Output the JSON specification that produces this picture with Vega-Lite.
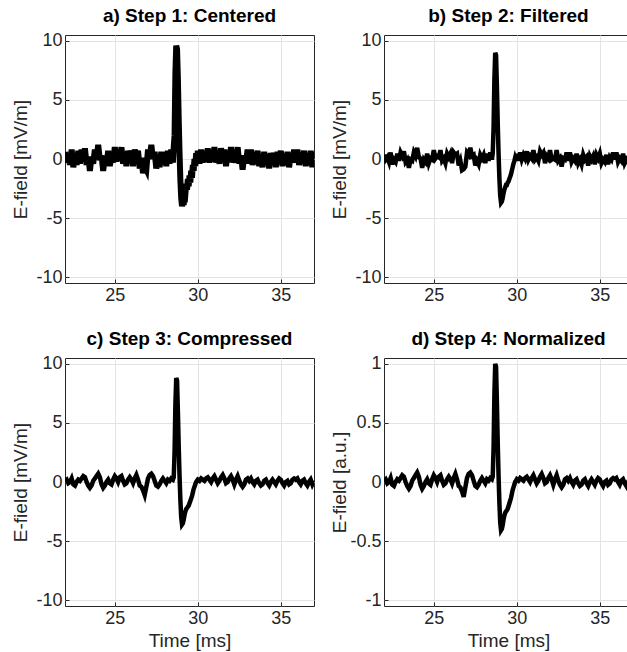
{
"$schema":"https://vega.github.io/schema/vega-lite/v6.json",
"padding":{"left":10,"top":6,"right":0,"bottom":0},
"background":"white",
"data":{"values":[
{"t":22.0,"a":0.6,"b":0.35,"c":0.1,"d":0.011},
{"t":22.1,"a":-0.3,"b":-0.05,"c":0.2,"d":0.023},
{"t":22.2,"a":0.4,"b":0.15,"c":-0.1,"d":-0.011},
{"t":22.3,"a":-0.5,"b":-0.25,"c":0.0,"d":0},
{"t":22.4,"a":0.8,"b":0.55,"c":0.3,"d":0.034},
{"t":22.5,"a":-0.7,"b":-0.45,"c":-0.2,"d":-0.023},
{"t":22.6,"a":0.2,"b":-0.05,"c":-0.3,"d":-0.034},
{"t":22.7,"a":-0.5,"b":-0.25,"c":0.0,"d":0},
{"t":22.8,"a":0.7,"b":0.45,"c":0.2,"d":0.023},
{"t":22.9,"a":-0.4,"b":-0.15,"c":0.1,"d":0.011},
{"t":23.0,"a":0.8,"b":0.55,"c":0.3,"d":0.034},
{"t":23.1,"a":0.0,"b":0.25,"c":0.5,"d":0.057},
{"t":23.2,"a":0.9,"b":0.65,"c":0.4,"d":0.045},
{"t":23.3,"a":-0.5,"b":-0.25,"c":0.0,"d":0},
{"t":23.4,"a":0.2,"b":-0.05,"c":-0.3,"d":-0.034},
{"t":23.5,"a":-1.0,"b":-0.75,"c":-0.5,"d":-0.057},
{"t":23.6,"a":0.2,"b":-0.05,"c":-0.3,"d":-0.034},
{"t":23.7,"a":-0.4,"b":-0.15,"c":0.1,"d":0.011},
{"t":23.8,"a":0.8,"b":0.55,"c":0.3,"d":0.034},
{"t":23.9,"a":0.0,"b":0.25,"c":0.5,"d":0.057},
{"t":24.0,"a":1.2,"b":0.95,"c":0.7,"d":0.080},
{"t":24.1,"a":-0.1,"b":0.15,"c":0.4,"d":0.045},
{"t":24.2,"a":0.3,"b":0.05,"c":-0.2,"d":-0.023},
{"t":24.3,"a":-1.0,"b":-0.75,"c":-0.5,"d":-0.057},
{"t":24.4,"a":0.2,"b":-0.05,"c":-0.3,"d":-0.034},
{"t":24.5,"a":-0.5,"b":-0.25,"c":0.0,"d":0},
{"t":24.6,"a":0.7,"b":0.45,"c":0.2,"d":0.023},
{"t":24.7,"a":-0.6,"b":-0.35,"c":-0.1,"d":-0.011},
{"t":24.8,"a":0.3,"b":0.05,"c":-0.2,"d":-0.023},
{"t":24.9,"a":-0.3,"b":-0.05,"c":0.2,"d":0.023},
{"t":25.0,"a":1.0,"b":0.75,"c":0.5,"d":0.057},
{"t":25.1,"a":-0.2,"b":0.05,"c":0.3,"d":0.034},
{"t":25.2,"a":0.5,"b":0.25,"c":0.0,"d":0},
{"t":25.3,"a":-0.1,"b":0.15,"c":0.4,"d":0.045},
{"t":25.4,"a":1.0,"b":0.75,"c":0.5,"d":0.057},
{"t":25.5,"a":-0.4,"b":-0.15,"c":0.1,"d":0.011},
{"t":25.6,"a":0.3,"b":0.05,"c":-0.2,"d":-0.023},
{"t":25.7,"a":-0.6,"b":-0.35,"c":-0.1,"d":-0.011},
{"t":25.8,"a":0.7,"b":0.45,"c":0.2,"d":0.023},
{"t":25.9,"a":-0.1,"b":0.15,"c":0.4,"d":0.045},
{"t":26.0,"a":0.7,"b":0.45,"c":0.2,"d":0.023},
{"t":26.1,"a":-0.6,"b":-0.35,"c":-0.1,"d":-0.011},
{"t":26.2,"a":0.8,"b":0.55,"c":0.3,"d":0.034},
{"t":26.3,"a":0.1,"b":0.35,"c":0.6,"d":0.068},
{"t":26.4,"a":0.7,"b":0.45,"c":0.2,"d":0.023},
{"t":26.5,"a":-0.8,"b":-0.55,"c":-0.3,"d":-0.034},
{"t":26.6,"a":0.1,"b":-0.15,"c":-0.4,"d":-0.045},
{"t":26.7,"a":-1.2,"b":-0.95,"c":-0.7,"d":-0.080},
{"t":26.8,"a":-0.6,"b":-0.85,"c":-1.1,"d":-0.125},
{"t":26.9,"a":-0.9,"b":-0.65,"c":-0.4,"d":-0.045},
{"t":27.0,"a":0.8,"b":0.55,"c":0.3,"d":0.034},
{"t":27.1,"a":0.1,"b":0.35,"c":0.6,"d":0.068},
{"t":27.2,"a":1.2,"b":0.95,"c":0.7,"d":0.080},
{"t":27.3,"a":0.0,"b":0.25,"c":0.5,"d":0.057},
{"t":27.4,"a":0.6,"b":0.35,"c":0.1,"d":0.011},
{"t":27.5,"a":-0.8,"b":-0.55,"c":-0.3,"d":-0.034},
{"t":27.6,"a":0.1,"b":-0.15,"c":-0.4,"d":-0.045},
{"t":27.7,"a":-0.7,"b":-0.45,"c":-0.2,"d":-0.023},
{"t":27.8,"a":0.6,"b":0.35,"c":0.1,"d":0.011},
{"t":27.9,"a":-0.2,"b":0.05,"c":0.3,"d":0.034},
{"t":28.0,"a":0.6,"b":0.35,"c":0.1,"d":0.011},
{"t":28.1,"a":-0.6,"b":-0.35,"c":-0.1,"d":-0.011},
{"t":28.2,"a":0.7,"b":0.45,"c":0.2,"d":0.023},
{"t":28.3,"a":-0.4,"b":-0.15,"c":0.1,"d":0.011},
{"t":28.4,"a":0.8,"b":0.55,"c":0.3,"d":0.034},
{"t":28.5,"a":-0.3,"b":-0.05,"c":0.2,"d":0.023},
{"t":28.55,"a":1.0,"b":0.5,"c":0.4,"d":0.045},
{"t":28.6,"a":2.0,"b":2.6,"c":2.5,"d":0.284},
{"t":28.65,"a":7.2,"b":6.7,"c":6.5,"d":0.739},
{"t":28.7,"a":9.6,"b":9.0,"c":8.8,"d":1.0},
{"t":28.75,"a":9.3,"b":8.8,"c":8.6,"d":0.977},
{"t":28.8,"a":6.8,"b":6.2,"c":6.0,"d":0.682},
{"t":28.85,"a":3.4,"b":3.1,"c":3.0,"d":0.341},
{"t":28.9,"a":0.5,"b":0.5,"c":0.5,"d":0.057},
{"t":28.95,"a":-1.8,"b":-1.6,"c":-1.5,"d":-0.170},
{"t":29.0,"a":-3.3,"b":-3.1,"c":-3.0,"d":-0.341},
{"t":29.05,"a":-4.0,"b":-3.7,"c":-3.6,"d":-0.409},
{"t":29.1,"a":-3.6,"b":-3.6,"c":-3.5,"d":-0.398},
{"t":29.15,"a":-3.9,"b":-3.3,"c":-3.2,"d":-0.364},
{"t":29.2,"a":-2.9,"b":-2.9,"c":-2.8,"d":-0.318},
{"t":29.25,"a":-3.0,"b":-2.6,"c":-2.5,"d":-0.284},
{"t":29.3,"a":-2.1,"b":-2.4,"c":-2.3,"d":-0.261},
{"t":29.35,"a":-2.6,"b":-2.2,"c":-2.2,"d":-0.25},
{"t":29.4,"a":-1.7,"b":-2.2,"c":-2.1,"d":-0.239},
{"t":29.45,"a":-2.3,"b":-2.0,"c":-2.0,"d":-0.227},
{"t":29.5,"a":-1.4,"b":-1.9,"c":-1.8,"d":-0.205},
{"t":29.55,"a":-2.0,"b":-1.7,"c":-1.6,"d":-0.182},
{"t":29.6,"a":-1.0,"b":-1.5,"c":-1.4,"d":-0.159},
{"t":29.65,"a":-1.6,"b":-1.3,"c":-1.2,"d":-0.136},
{"t":29.7,"a":-0.5,"b":-1.0,"c":-0.9,"d":-0.102},
{"t":29.75,"a":-1.0,"b":-0.7,"c":-0.6,"d":-0.068},
{"t":29.8,"a":0.0,"b":-0.4,"c":-0.4,"d":-0.045},
{"t":29.85,"a":-0.6,"b":-0.2,"c":-0.2,"d":-0.023},
{"t":29.9,"a":0.5,"b":0.1,"c":0.0,"d":0},
{"t":29.95,"a":-0.3,"b":-0.1,"c":0.1,"d":0.011},
{"t":30.0,"a":0.7,"b":0.45,"c":0.2,"d":0.023},
{"t":30.1,"a":-0.4,"b":-0.15,"c":0.1,"d":0.011},
{"t":30.2,"a":0.8,"b":0.55,"c":0.3,"d":0.034},
{"t":30.3,"a":-0.3,"b":-0.05,"c":0.2,"d":0.023},
{"t":30.4,"a":0.6,"b":0.35,"c":0.1,"d":0.011},
{"t":30.5,"a":-0.2,"b":0.05,"c":0.3,"d":0.034},
{"t":30.6,"a":0.9,"b":0.65,"c":0.4,"d":0.045},
{"t":30.7,"a":-0.3,"b":-0.05,"c":0.2,"d":0.023},
{"t":30.8,"a":0.5,"b":0.25,"c":0.0,"d":0},
{"t":30.9,"a":-0.2,"b":0.05,"c":0.3,"d":0.034},
{"t":31.0,"a":1.0,"b":0.75,"c":0.5,"d":0.057},
{"t":31.1,"a":-0.3,"b":-0.05,"c":0.2,"d":0.023},
{"t":31.2,"a":0.4,"b":0.15,"c":-0.1,"d":-0.011},
{"t":31.3,"a":-0.4,"b":-0.15,"c":0.1,"d":0.011},
{"t":31.4,"a":0.9,"b":0.65,"c":0.4,"d":0.045},
{"t":31.5,"a":0.1,"b":0.35,"c":0.6,"d":0.068},
{"t":31.6,"a":0.8,"b":0.55,"c":0.3,"d":0.034},
{"t":31.7,"a":-0.6,"b":-0.35,"c":-0.1,"d":-0.011},
{"t":31.8,"a":0.5,"b":0.25,"c":0.0,"d":0},
{"t":31.9,"a":-0.2,"b":0.05,"c":0.3,"d":0.034},
{"t":32.0,"a":1.0,"b":0.75,"c":0.5,"d":0.057},
{"t":32.1,"a":-0.3,"b":-0.05,"c":0.2,"d":0.023},
{"t":32.2,"a":0.3,"b":0.05,"c":-0.2,"d":-0.023},
{"t":32.3,"a":-0.3,"b":-0.05,"c":0.2,"d":0.023},
{"t":32.4,"a":1.0,"b":0.75,"c":0.5,"d":0.057},
{"t":32.5,"a":-0.4,"b":-0.15,"c":0.1,"d":0.011},
{"t":32.6,"a":0.3,"b":0.05,"c":-0.2,"d":-0.023},
{"t":32.7,"a":-0.9,"b":-0.65,"c":-0.4,"d":-0.045},
{"t":32.8,"a":0.3,"b":0.05,"c":-0.2,"d":-0.023},
{"t":32.9,"a":-0.3,"b":-0.05,"c":0.2,"d":0.023},
{"t":33.0,"a":0.8,"b":0.55,"c":0.3,"d":0.034},
{"t":33.1,"a":-0.4,"b":-0.15,"c":0.1,"d":0.011},
{"t":33.2,"a":0.8,"b":0.55,"c":0.3,"d":0.034},
{"t":33.3,"a":-0.5,"b":-0.25,"c":0.0,"d":0},
{"t":33.4,"a":0.3,"b":0.05,"c":-0.2,"d":-0.023},
{"t":33.5,"a":-0.4,"b":-0.15,"c":0.1,"d":0.011},
{"t":33.6,"a":0.7,"b":0.45,"c":0.2,"d":0.023},
{"t":33.7,"a":-0.6,"b":-0.35,"c":-0.1,"d":-0.011},
{"t":33.8,"a":0.2,"b":-0.05,"c":-0.3,"d":-0.034},
{"t":33.9,"a":-0.7,"b":-0.45,"c":-0.2,"d":-0.023},
{"t":34.0,"a":0.6,"b":0.35,"c":0.1,"d":0.011},
{"t":34.1,"a":-0.3,"b":-0.05,"c":0.2,"d":0.023},
{"t":34.2,"a":0.4,"b":0.15,"c":-0.1,"d":-0.011},
{"t":34.3,"a":-0.8,"b":-0.55,"c":-0.3,"d":-0.034},
{"t":34.4,"a":0.5,"b":0.25,"c":0.0,"d":0},
{"t":34.5,"a":-0.3,"b":-0.05,"c":0.2,"d":0.023},
{"t":34.6,"a":0.5,"b":0.25,"c":0.0,"d":0},
{"t":34.7,"a":-0.7,"b":-0.45,"c":-0.2,"d":-0.023},
{"t":34.8,"a":0.6,"b":0.35,"c":0.1,"d":0.011},
{"t":34.9,"a":-0.2,"b":0.05,"c":0.3,"d":0.034},
{"t":35.0,"a":0.7,"b":0.45,"c":0.2,"d":0.023},
{"t":35.1,"a":-0.6,"b":-0.35,"c":-0.1,"d":-0.011},
{"t":35.2,"a":0.2,"b":-0.05,"c":-0.3,"d":-0.034},
{"t":35.3,"a":-0.5,"b":-0.25,"c":0.0,"d":0},
{"t":35.4,"a":0.6,"b":0.35,"c":0.1,"d":0.011},
{"t":35.5,"a":-0.7,"b":-0.45,"c":-0.2,"d":-0.023},
{"t":35.6,"a":0.4,"b":0.15,"c":-0.1,"d":-0.011},
{"t":35.7,"a":-0.3,"b":-0.05,"c":0.2,"d":0.023},
{"t":35.8,"a":0.8,"b":0.55,"c":0.3,"d":0.034},
{"t":35.9,"a":-0.3,"b":-0.05,"c":0.2,"d":0.023},
{"t":36.0,"a":0.8,"b":0.55,"c":0.3,"d":0.034},
{"t":36.1,"a":-0.5,"b":-0.25,"c":0.0,"d":0},
{"t":36.2,"a":0.3,"b":0.05,"c":-0.2,"d":-0.023},
{"t":36.3,"a":-0.4,"b":-0.15,"c":0.1,"d":0.011},
{"t":36.4,"a":0.7,"b":0.45,"c":0.2,"d":0.023},
{"t":36.5,"a":-0.6,"b":-0.35,"c":-0.1,"d":-0.011},
{"t":36.6,"a":0.2,"b":-0.05,"c":-0.3,"d":-0.034},
{"t":36.7,"a":-0.5,"b":-0.25,"c":0.0,"d":0},
{"t":36.8,"a":0.7,"b":0.45,"c":0.2,"d":0.023},
{"t":36.9,"a":-0.7,"b":-0.45,"c":-0.2,"d":-0.023},
{"t":37.0,"a":0.6,"b":0.35,"c":0.1,"d":0.011}
]},
"columns":2,
"spacing":{"column":14,"row":24},
"concat":[
{"width":249,"height":248,"title":"a) Step 1: Centered",
 "mark":{"type":"line","color":"black","strokeWidth":6,"clip":true},
 "encoding":{
  "x":{"field":"t","type":"quantitative","scale":{"domain":[22,37],"nice":false,"zero":false},"axis":{"values":[25,30,35],"title":null}},
  "y":{"field":"a","type":"quantitative","scale":{"domain":[-10.5,10.5],"nice":false},"axis":{"values":[-10,-5,0,5,10],"title":"E-field [mV/m]"}}}},
{"width":249,"height":248,"title":"b) Step 2: Filtered",
 "mark":{"type":"line","color":"black","strokeWidth":4.5,"clip":true},
 "encoding":{
  "x":{"field":"t","type":"quantitative","scale":{"domain":[22,37],"nice":false,"zero":false},"axis":{"values":[25,30,35],"title":null}},
  "y":{"field":"b","type":"quantitative","scale":{"domain":[-10.5,10.5],"nice":false},"axis":{"values":[-10,-5,0,5,10],"title":"E-field [mV/m]"}}}},
{"width":249,"height":248,"title":"c) Step 3: Compressed",
 "mark":{"type":"line","color":"black","strokeWidth":4.5,"clip":true},
 "encoding":{
  "x":{"field":"t","type":"quantitative","scale":{"domain":[22,37],"nice":false,"zero":false},"axis":{"values":[25,30,35],"title":"Time [ms]"}},
  "y":{"field":"c","type":"quantitative","scale":{"domain":[-10.5,10.5],"nice":false},"axis":{"values":[-10,-5,0,5,10],"title":"E-field [mV/m]"}}}},
{"width":249,"height":248,"title":"d) Step 4: Normalized",
 "mark":{"type":"line","color":"black","strokeWidth":4.5,"clip":true},
 "encoding":{
  "x":{"field":"t","type":"quantitative","scale":{"domain":[22,37],"nice":false,"zero":false},"axis":{"values":[25,30,35],"title":"Time [ms]"}},
  "y":{"field":"d","type":"quantitative","scale":{"domain":[-1.05,1.05],"nice":false},"axis":{"values":[-1,-0.5,0,0.5,1],"title":"E-field [a.u.]"}}}}
],
"config":{
 "font":"Liberation Sans",
 "view":{"stroke":"#262626","strokeWidth":1},
 "axis":{"domain":false,"grid":true,"gridColor":"#e3e3e3","gridWidth":1,"tickColor":"#262626","tickSize":-4,"labelPadding":7,"labelExpr":"datum.value + ''","labelFont":"Liberation Sans","labelFontSize":18,"labelColor":"#262626","titleFont":"Liberation Sans","titleFontSize":19,"titleFontWeight":"normal","titleColor":"#262626"},
 "axisY":{"minExtent":30,"maxExtent":30,"titlePadding":5},
 "axisX":{"titlePadding":4},
 "title":{"font":"Liberation Sans","fontSize":19,"fontWeight":"bold","color":"black","offset":6}
}
}
